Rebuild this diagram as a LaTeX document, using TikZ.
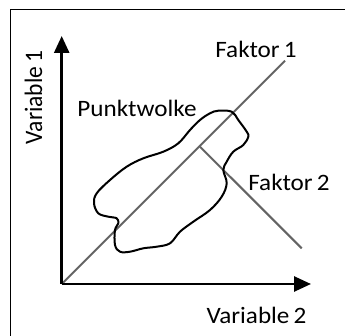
\documentclass[tikz,border=0pt]{standalone}
\usepackage{fontspec}
\setmainfont{Carlito}
\usetikzlibrary{arrows.meta}
\begin{document}
\begin{tikzpicture}[x=1pt,y=-1pt,
  axis/.style={line width=2.6pt,-{Triangle[length=17pt,width=15pt]}},
  faktor/.style={line width=2pt,draw={rgb,255:red,100;green,100;blue,100}},
  cloud/.style={line width=2pt,line join=round},
  lbl/.style={font=\fontsize{23.5}{26}\selectfont,inner sep=0pt,xscale=1.07}]
\useasboundingbox (0,0) rectangle (345,336);
\begin{scope}
\clip (0,0) rectangle (345,336);
\draw[line width=1pt] (10,10) rectangle (360,360);
\end{scope}
\coordinate (O) at (61.7,284);
\coordinate (ytip) at (61.7,36);
\coordinate (xtip) at (311,284);
\coordinate (f1end) at (285,60.7);
\coordinate (f2start) at (200,146.7);
\coordinate (f2end) at (301.7,248.3);
\draw[faktor] (O) -- (f1end);
\draw[faktor] (f2start) -- (f2end);
\draw[cloud] plot[smooth cycle,tension=0.6] coordinates {
(218.3,110.7) (231.7,111.7) (238.3,120) (246.7,131.7) (248.3,136.7)
(243.3,145) (233.3,151.7) (226.7,161.7) (223.3,170) (226.7,183.3)
(221.7,196.7) (210,210) (193.3,221.7) (180,231.7) (170,243.3)
(156.7,246.7) (143.3,248.3) (130,251.7) (120,251.7) (115,245)
(115,230) (118.3,223.3) (116.7,218.3) (108.3,216.7) (98.3,213.3)
(94,203.3) (96.7,193.3) (110,180) (126.7,166.7) (143.3,158.3)
(163.3,151.7) (178.3,143.3) (190,130) (200,120) (210,113.3)};
\draw[axis] (O) -- (ytip);
\draw[axis] (O) -- (xtip);
\node[lbl] (f1) at (256,49.5) {Faktor\,1};
\node[lbl] (f2) at (289,182.5) {Faktor\,2};
\node[lbl] (pw) at (137,108) {Punktwolke};
\node[lbl,rotate=90] (v1) at (33.5,97.5) {Variable\,1};
\node[lbl] (v2) at (256.5,315) {Variable\,2};
\end{tikzpicture}
\end{document}
